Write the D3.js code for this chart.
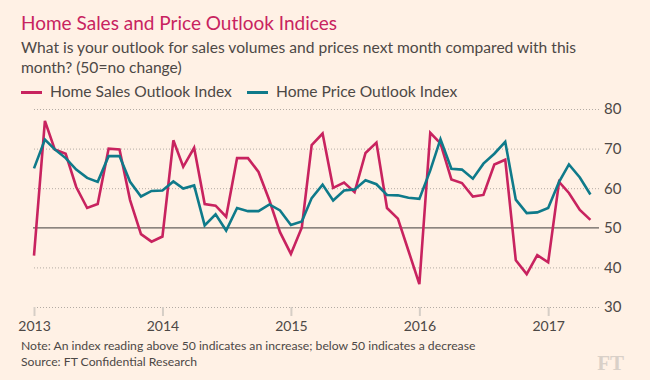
<!DOCTYPE html>
<html><head><meta charset="utf-8">
<script src="https://cdn.jsdelivr.net/npm/d3@7"></script>
<style>
body{margin:0;background:#fff1e5;}
svg{display:block;font-family:Lato,"Open Sans",sans-serif;}
</style></head>
<body>
<svg id="c" width="650" height="380"></svg>
<script>
const startYear = 2013;
const yearTicks = ["2013","2014","2015","2016","2017"];
const yTicks = [30,40,50,60,70,80];
const salesIndex = [43,77,69.8,68.7,60.3,55,56,70,69.8,57,48.4,46.5,
  47.8,72.1,65.4,70.2,56,55.6,52.8,67.6,67.6,64.1,56.9,48.9,
  43.4,50.1,70.9,73.8,60.1,61.4,59,68.9,71.5,55,52.3,44.2,
  35.8,74,71.3,62.2,61.3,57.9,58.3,66,67.2,41.8,38.3,43.1,
  41.3,61.6,58.8,54.5,52];
const priceIndex = [65,72.3,69.8,67.6,64.7,62.6,61.6,68.1,68.1,61.6,57.9,59.3,
  59.4,61.7,59.9,60.7,50.6,53.4,49.3,55,54.2,54.2,55.9,54.4,
  50.7,51.6,57.5,60.9,56.9,59.4,59.7,62,61,58.3,58.2,57.6,
  57.3,64.5,72.4,64.9,64.7,62.4,66.2,68.7,71.7,57.1,53.7,53.9,
  55,61.6,66,62.7,58.4];
const seriesNames = ["Home Sales Outlook Index","Home Price Outlook Index"];
const colors = ["#c8235f","#0f7a8a"];

const svg = d3.select("#c");
const months = salesIndex.map((d,i)=>new Date(startYear, i, 1));
const x = d3.scaleTime().domain([new Date(2013,0,1), new Date(2017,4,1)]).range([34, 590.4]);
const y = d3.scaleLinear().domain([30,80]).range([307,109]);
const ink = "#4d4845";

svg.append("text").attr("x",21).attr("y",30).attr("fill","#c8235f")
  .attr("font-size",19).text("Home Sales and Price Outlook Indices");
svg.append("text").attr("x",21).attr("y",53).attr("fill",ink).attr("font-size",15.6)
  .text("What is your outlook for sales volumes and prices next month compared with this");
svg.append("text").attr("x",21).attr("y",73).attr("fill",ink).attr("font-size",15.6)
  .text("month? (50=no change)");

// legend
const lx = [21, 247];
seriesNames.forEach((n,i)=>{
  svg.append("line").attr("x1",lx[i]).attr("x2",lx[i]+21).attr("y1",92.5).attr("y2",92.5)
    .attr("stroke",colors[i]).attr("stroke-width",3);
  svg.append("text").attr("x",lx[i]+29).attr("y",97).attr("fill",ink).attr("font-size",15.6).text(n);
});

// gridlines
const xr = [34, 599];
svg.append("g").selectAll("line").data(yTicks.filter(d=>d!==50)).join("line")
  .attr("x1",xr[0]).attr("x2",xr[1]).attr("y1",d=>y(d)+0.5).attr("y2",d=>y(d)+0.5)
  .attr("stroke","#b3aba4").attr("stroke-width",1).attr("stroke-dasharray","1,2");
// y labels
const yAxis = d3.axisRight(y).tickValues(yTicks).tickSize(0).tickPadding(0);
const ya = svg.append("g").attr("transform",`translate(604,0)`).call(yAxis);
ya.select(".domain").remove();
ya.selectAll("text").attr("font-size",15).attr("fill",ink).attr("font-family","Lato,sans-serif");

// x axis ticks
const yearDates = yearTicks.map(t=>new Date(+t,0,1));
const xAxis = d3.axisBottom(x).tickValues(yearDates).tickFormat((d,i)=>yearTicks[i]).tickSize(9).tickPadding(5);
const xa = svg.append("g").attr("transform",`translate(0,307)`).call(xAxis);
xa.select(".domain").remove();
xa.selectAll("line").attr("stroke","#d6cec6").attr("stroke-width",2);
xa.selectAll("text").attr("font-size",14).attr("fill",ink).attr("font-family","Lato,sans-serif");

// 50 baseline
svg.append("line").attr("x1",33).attr("x2",xr[1]).attr("y1",y(50)).attr("y2",y(50))
  .attr("stroke","#66605c").attr("stroke-width",1.3);

// lines
const line = d3.line().x((d,i)=>x(months[i])).y(d=>y(d));
[salesIndex, priceIndex].forEach((s,i)=>{
  svg.append("path").datum(s).attr("d",line).attr("fill","none")
    .attr("stroke",colors[i]).attr("stroke-width",2.6).attr("stroke-linejoin","miter");
});
svg.append("text").attr("x",21).attr("y",350).attr("fill",ink).attr("font-size",12.2)
  .text("Note: An index reading above 50 indicates an increase; below 50 indicates a decrease");
svg.append("text").attr("x",21).attr("y",366).attr("fill",ink).attr("font-size",12.2)
  .text("Source: FT Confidential Research");
svg.append("text").attr("x",624).attr("y",370).attr("text-anchor","end").attr("fill","#d9d0c8")
  .attr("font-family","'Liberation Serif',serif").attr("font-weight","bold").attr("font-size",21).text("FT");
</script>
</body></html>
